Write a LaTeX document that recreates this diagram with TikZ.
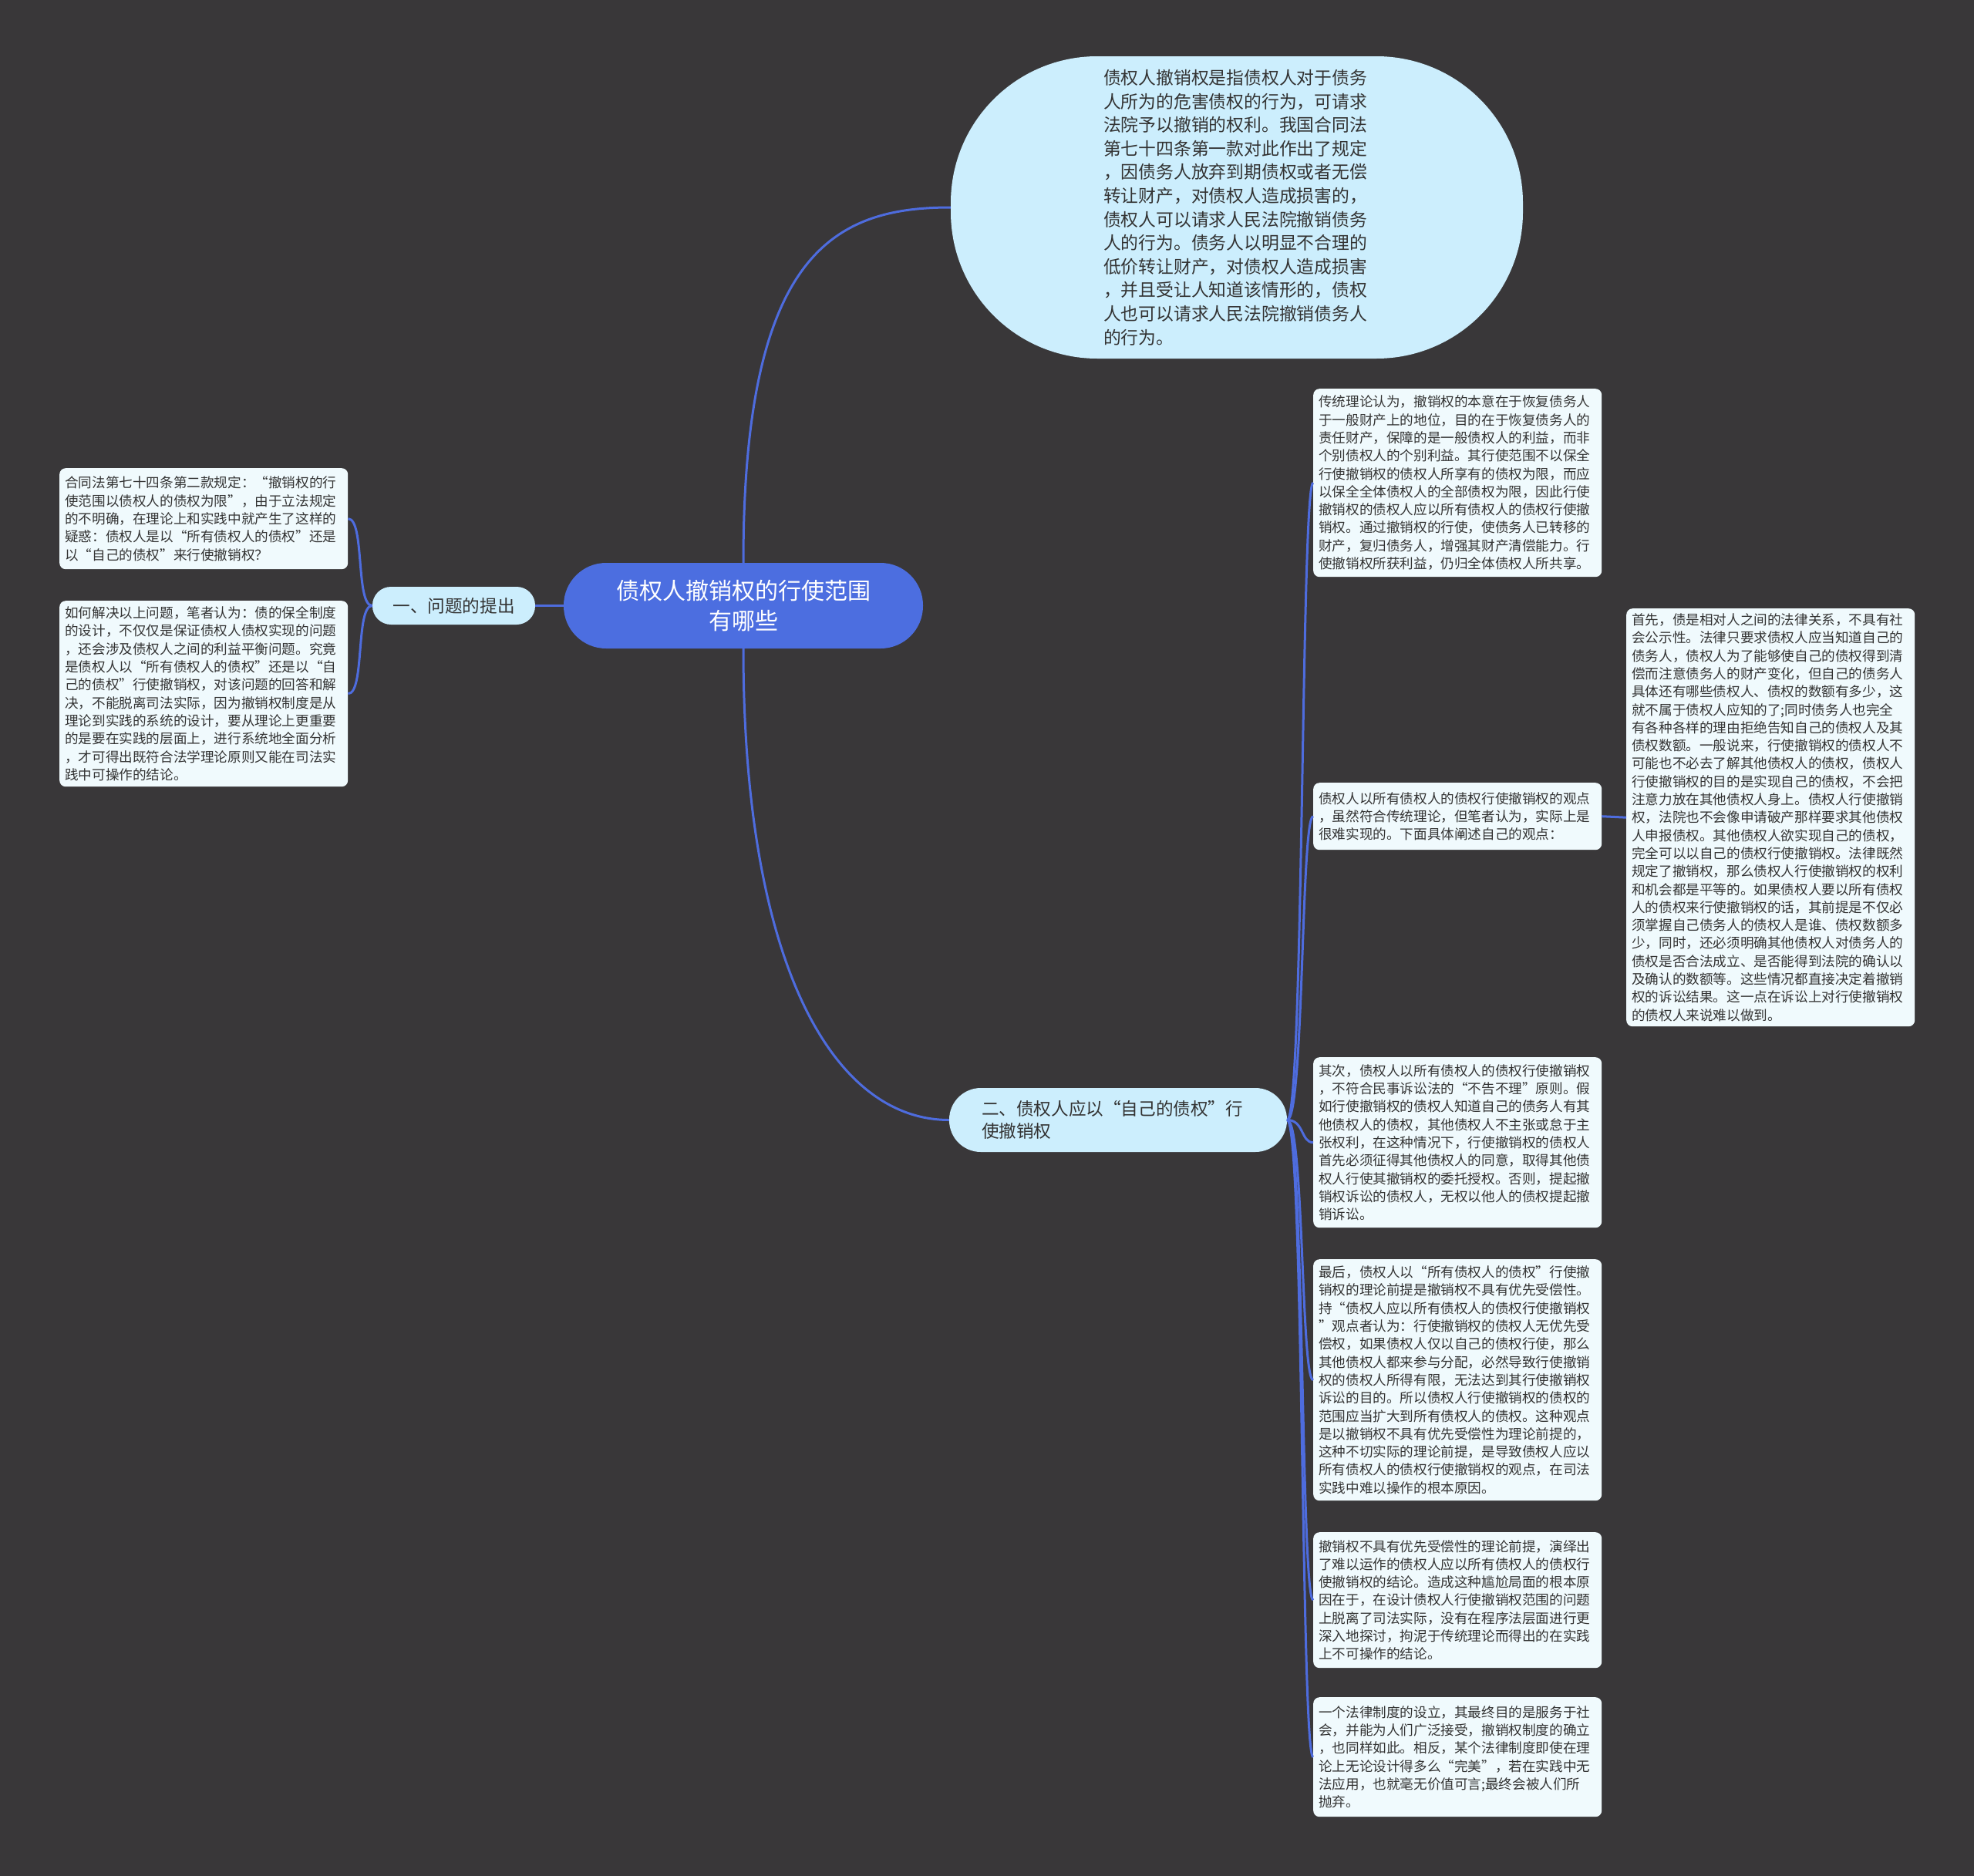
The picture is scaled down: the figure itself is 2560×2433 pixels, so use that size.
\documentclass[tikz,border=0pt]{standalone}
\usepackage{fontspec}
\setmainfont{Noto Sans CJK SC}
\definecolor{bgc}{RGB}{57,55,57}
\definecolor{linkc}{RGB}{78,108,222}
\definecolor{rootfill}{RGB}{76,110,224}
\definecolor{lonefill}{RGB}{204,238,253}
\definecolor{leaffill}{RGB}{240,250,253}
\definecolor{leaftext}{RGB}{51,51,51}
\tikzset{
  leaf/.style={fill=leaffill, rounded corners=8pt, text=leaftext, align=left,
    text width=360pt, inner xsep=7pt, inner ysep=0pt, anchor=north west,
    font=\fontsize{17.6}{23.3}\selectfont},
  lone/.style={fill=lonefill, text=leaftext, inner ysep=0pt},
  link/.style={draw=linkc, line width=3pt},
}
\begin{document}
\begin{tikzpicture}[x=1pt,y=-1pt]
\useasboundingbox (0,0) rectangle (2560,2433);
\fill[bgc] (0,0) rectangle (2560,2433);

% root
\node[fill=rootfill, text=white, align=center, minimum width=466pt, minimum height=111pt,
  rounded corners=55pt, inner sep=0pt, font=\fontsize{30}{39}\selectfont] (root) at (964,785.5)
  {债权人撤销权的行使范围\\有哪些};

% level one
\node[lone, minimum width=211pt, minimum height=49pt, rounded corners=24pt, inner xsep=0pt,
  font=\fontsize{22.6}{29}\selectfont] (qa) at (588.5,785.5) {一、问题的提出};
\node[lone, minimum width=438pt, minimum height=83pt, rounded corners=41pt, inner xsep=42pt,
  text width=354pt, align=left, font=\fontsize{22.6}{29.4}\selectfont] (qb) at (1450,1452.5)
  {二、债权人应以“自己的债权”行\\使撤销权};

% top node
\node[lone, minimum width=742pt, minimum height=392pt, rounded corners=190pt, inner xsep=0pt,
  text width=346pt, align=left, font=\fontsize{22.8}{30.6}\selectfont] (top) at (1604,269)
  {债权人撤销权是指债权人对于债务\\人所为的危害债权的行为，可请求\\法院予以撤销的权利。我国合同法\\第七十四条第一款对此作出了规定\\，因债务人放弃到期债权或者无偿\\转让财产，对债权人造成损害的，\\债权人可以请求人民法院撤销债务\\人的行为。债务人以明显不合理的\\低价转让财产，对债权人造成损害\\，并且受让人知道该情形的，债权\\人也可以请求人民法院撤销债务人\\的行为。};

% left leaves
\node[leaf, minimum height=131pt] (la) at (77,607)
  {合同法第七十四条第二款规定：“撤销权的行\\使范围以债权人的债权为限”，由于立法规定\\的不明确，在理论上和实践中就产生了这样的\\疑惑：债权人是以“所有债权人的债权”还是\\以“自己的债权”来行使撤销权？};
\node[leaf, minimum height=241pt] (lb) at (77,779)
  {如何解决以上问题，笔者认为：债的保全制度\\的设计，不仅仅是保证债权人债权实现的问题\\，还会涉及债权人之间的利益平衡问题。究竟\\是债权人以“所有债权人的债权”还是以“自\\己的债权”行使撤销权，对该问题的回答和解\\决，不能脱离司法实际，因为撤销权制度是从\\理论到实践的系统的设计，要从理论上更重要\\的是要在实践的层面上，进行系统地全面分析\\，才可得出既符合法学理论原则又能在司法实\\践中可操作的结论。};

% right leaves
\node[leaf, minimum height=244pt] (ra) at (1703,504)
  {传统理论认为，撤销权的本意在于恢复债务人\\于一般财产上的地位，目的在于恢复债务人的\\责任财产，保障的是一般债权人的利益，而非\\个别债权人的个别利益。其行使范围不以保全\\行使撤销权的债权人所享有的债权为限，而应\\以保全全体债权人的全部债权为限，因此行使\\撤销权的债权人应以所有债权人的债权行使撤\\销权。通过撤销权的行使，使债务人已转移的\\财产，复归债务人，增强其财产清偿能力。行\\使撤销权所获利益，仍归全体债权人所共享。};
\node[leaf, minimum height=87pt] (rb) at (1703,1015)
  {债权人以所有债权人的债权行使撤销权的观点\\，虽然符合传统理论，但笔者认为，实际上是\\很难实现的。下面具体阐述自己的观点：};
\node[leaf, minimum height=542pt] (fr) at (2109,789)
  {首先，债是相对人之间的法律关系，不具有社\\会公示性。法律只要求债权人应当知道自己的\\债务人，债权人为了能够使自己的债权得到清\\偿而注意债务人的财产变化，但自己的债务人\\具体还有哪些债权人、债权的数额有多少，这\\就不属于债权人应知的了;同时债务人也完全\\有各种各样的理由拒绝告知自己的债权人及其\\债权数额。一般说来，行使撤销权的债权人不\\可能也不必去了解其他债权人的债权，债权人\\行使撤销权的目的是实现自己的债权，不会把\\注意力放在其他债权人身上。债权人行使撤销\\权，法院也不会像申请破产那样要求其他债权\\人申报债权。其他债权人欲实现自己的债权，\\完全可以以自己的债权行使撤销权。法律既然\\规定了撤销权，那么债权人行使撤销权的权利\\和机会都是平等的。如果债权人要以所有债权\\人的债权来行使撤销权的话，其前提是不仅必\\须掌握自己债务人的债权人是谁、债权数额多\\少，同时，还必须明确其他债权人对债务人的\\债权是否合法成立、是否能得到法院的确认以\\及确认的数额等。这些情况都直接决定着撤销\\权的诉讼结果。这一点在诉讼上对行使撤销权\\的债权人来说难以做到。};
\node[leaf, minimum height=221pt] (rc) at (1703,1371)
  {其次，债权人以所有债权人的债权行使撤销权\\，不符合民事诉讼法的“不告不理”原则。假\\如行使撤销权的债权人知道自己的债务人有其\\他债权人的债权，其他债权人不主张或怠于主\\张权利，在这种情况下，行使撤销权的债权人\\首先必须征得其他债权人的同意，取得其他债\\权人行使其撤销权的委托授权。否则，提起撤\\销权诉讼的债权人，无权以他人的债权提起撤\\销诉讼。};
\node[leaf, minimum height=313pt] (rd) at (1703,1633)
  {最后，债权人以“所有债权人的债权”行使撤\\销权的理论前提是撤销权不具有优先受偿性。\\持“债权人应以所有债权人的债权行使撤销权\\”观点者认为：行使撤销权的债权人无优先受\\偿权，如果债权人仅以自己的债权行使，那么\\其他债权人都来参与分配，必然导致行使撤销\\权的债权人所得有限，无法达到其行使撤销权\\诉讼的目的。所以债权人行使撤销权的债权的\\范围应当扩大到所有债权人的债权。这种观点\\是以撤销权不具有优先受偿性为理论前提的，\\这种不切实际的理论前提，是导致债权人应以\\所有债权人的债权行使撤销权的观点，在司法\\实践中难以操作的根本原因。};
\node[leaf, minimum height=176pt] (re) at (1703,1987)
  {撤销权不具有优先受偿性的理论前提，演绎出\\了难以运作的债权人应以所有债权人的债权行\\使撤销权的结论。造成这种尴尬局面的根本原\\因在于，在设计债权人行使撤销权范围的问题\\上脱离了司法实际，没有在程序法层面进行更\\深入地探讨，拘泥于传统理论而得出的在实践\\上不可操作的结论。};
\node[leaf, minimum height=155pt] (rf) at (1703,2201)
  {一个法律制度的设立，其最终目的是服务于社\\会，并能为人们广泛接受，撤销权制度的确立\\，也同样如此。相反，某个法律制度即使在理\\论上无论设计得多么“完美”，若在实践中无\\法应用，也就毫无价值可言;最终会被人们所\\抛弃。};

% connectors
\draw[link] (root.north) .. controls (964,330) and (1080,269) .. (top.west);
\draw[link] (root.south) .. controls (964,1250) and (1080,1452.5) .. (qb.west);
\draw[link] (root.west) -- (qa.east);
\foreach \c in {la,lb}
  \draw[link] (qa.west) .. controls +(-22,0) and +(22,0) .. (\c.east);
\foreach \c in {ra,rb,rc,rd,re,rf}
  \draw[link] (qb.east) .. controls +(22,0) and +(-16,0) .. (\c.west);
\draw[link] (rb.east) -- (fr.west);
\end{tikzpicture}
\end{document}
